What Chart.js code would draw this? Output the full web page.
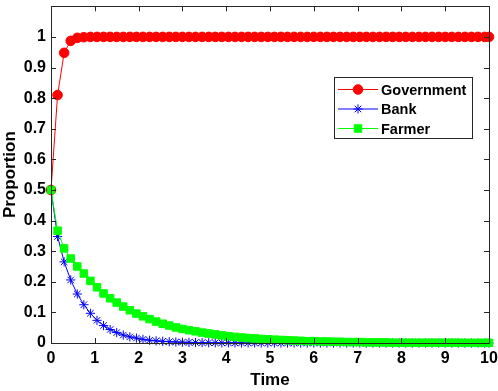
<!DOCTYPE html>
<html>
<head>
<meta charset="utf-8">
<script src="https://cdn.jsdelivr.net/npm/chart.js@4/dist/chart.umd.min.js"></script>
<style>
html,body{margin:0;padding:0;background:#fff;}
#wrap{width:498px;height:391px;position:relative;}
</style>
</head>
<body>
<div id="wrap"><canvas id="c" width="498" height="391"></canvas></div>
<script>
const times = [0,0.15,0.3,0.45,0.6,0.75,0.9,1.05,1.2,1.35,1.5,1.65,1.8,1.95,2.1,2.25,2.4,2.55,2.7,2.85,
  3.0,3.15,3.3,3.45,3.6,3.75,3.9,4.05,4.2,4.35,4.5,4.65,4.8,4.95,5.1,5.25,5.4,5.55,5.7,5.85,
  6.0,6.15,6.3,6.45,6.6,6.75,6.9,7.05,7.2,7.35,7.5,7.65,7.8,7.95,8.1,8.25,8.4,8.55,8.7,8.85,
  9.0,9.15,9.3,9.45,9.6,9.75,9.9,10.0];

const government = [0.5,0.81,0.948,0.987,0.997,0.999,1,1,1,1,1,1,1,1,1,1,1,1,1,1,
  1,1,1,1,1,1,1,1,1,1,1,1,1,1,1,1,1,1,1,1,
  1,1,1,1,1,1,1,1,1,1,1,1,1,1,1,1,1,1,1,1,
  1,1,1,1,1,1,1,1];

const bank = [0.5,0.348,0.265,0.206,0.160,0.125,0.097,0.074,0.057,0.044,0.034,0.026,0.020,0.016,0.012,0.009,0.007,0.0055,0.0043,0.0033,
  0.0026,0.002,0.0015,0.0012,0.0009,0.0007,0.0005,0.0004,0.0003,0.0002,0.0002,0.0001,0,0,0,0,0,0,0,0,
  0,0,0,0,0,0,0,0,0,0,0,0,0,0,0,0,0,0,0,0,
  0,0,0,0,0,0,0,0];

const farmer = [0.5,0.367,0.309,0.276,0.25,0.227,0.203,0.182,0.162,0.146,0.132,0.119,0.107,0.096,0.087,0.078,0.070,0.063,0.057,0.051,
  0.046,0.042,0.038,0.034,0.031,0.028,0.025,0.022,0.020,0.018,0.016,0.015,0.013,0.012,0.011,0.010,0.009,0.008,0.007,0.006,
  0.006,0.005,0.005,0.004,0.004,0.003,0.003,0.003,0.002,0.002,0.002,0.002,0.001,0.001,0.001,0.001,0.001,0.001,0.001,0.001,
  0.001,0.001,0.001,0.0005,0.0005,0.0005,0.0005,0.0005];

const seriesNames = ['Government','Bank','Farmer'];
const xTicks = [0,1,2,3,4,5,6,7,8,9,10];
const yTicks = [0,0.1,0.2,0.3,0.4,0.5,0.6,0.7,0.8,0.9,1];

const FONT = "'Liberation Sans', Arial, sans-serif";
const AXIS = '#262626';

const pts = arr => arr.map((v,i)=>({x:times[i], y:v}));

const styles = [
  {color:'#ff0000', pointStyle:'circle', radius:4.8, fill:'#ff0000', bw:1},
  {color:'#0000ff', pointStyle:'star', radius:4.6, fill:'rgba(0,0,0,0)', bw:1},
  {color:'#00ff00', pointStyle:'rect', radius:5.3, fill:'#00ff00', bw:1}
];

const boxPlugin = {
  id:'box',
  afterDraw(chart){
    const ctx = chart.ctx, a = chart.chartArea;
    const xs = chart.scales.x, ys = chart.scales.y;
    ctx.save();
    ctx.strokeStyle = AXIS; ctx.lineWidth = 1;
    ctx.beginPath();
    ctx.rect(Math.round(a.left)+0.5, Math.round(a.top)+0.5, Math.round(a.right-a.left), Math.round(a.bottom-a.top));
    ctx.stroke();
    const L = 5;
    ctx.beginPath();
    xTicks.forEach(v=>{
      const px = Math.round(xs.getPixelForValue(v))+0.5;
      ctx.moveTo(px, a.bottom); ctx.lineTo(px, a.bottom-L);
      ctx.moveTo(px, a.top); ctx.lineTo(px, a.top+L);
    });
    yTicks.forEach(v=>{
      const py = Math.round(ys.getPixelForValue(v))+0.5;
      ctx.moveTo(a.left, py); ctx.lineTo(a.left+L, py);
      ctx.moveTo(a.right, py); ctx.lineTo(a.right-L, py);
    });
    ctx.stroke();

    // legend
    const lx = 334.5, ly = 77.5, lw = 138, lh = 61;
    ctx.fillStyle = '#fff';
    ctx.fillRect(lx, ly, lw, lh);
    ctx.strokeStyle = AXIS;
    ctx.strokeRect(lx, ly, lw, lh);
    const rows = [89.5, 109, 128.5];
    ctx.font = "bold 14.5px " + FONT;
    ctx.textBaseline = 'middle';
    seriesNames.forEach((name,i)=>{
      const s = styles[i];
      ctx.strokeStyle = s.color; ctx.lineWidth = 1;
      ctx.beginPath(); ctx.moveTo(338, rows[i]); ctx.lineTo(378, rows[i]); ctx.stroke();
      ctx.fillStyle = s.fill; ctx.strokeStyle = s.color; ctx.lineWidth = s.bw;
      Chart.helpers.drawPoint(ctx, {pointStyle:s.pointStyle, radius:s.radius, rotation:0, borderWidth:s.bw}, 358, rows[i]);
      ctx.fillStyle = '#000';
      ctx.fillText(name, 381, rows[i]+1);
    });
    ctx.restore();
  }
};

const datasets = [government, bank, farmer].map((arr,i)=>({
  label: seriesNames[i],
  data: pts(arr),
  borderColor: styles[i].color,
  backgroundColor: styles[i].fill,
  pointBorderColor: styles[i].color,
  pointBackgroundColor: styles[i].fill,
  pointStyle: styles[i].pointStyle,
  pointRadius: styles[i].radius,
  pointBorderWidth: styles[i].bw,
  borderWidth: 1,
  tension: 0,
  clip: 6,
  order: 3 - i
}));

function noPad(s){ s.paddingTop = 0; s.paddingBottom = 0; s.paddingLeft = 0; s.paddingRight = 0; }

new Chart(document.getElementById('c'), {
  type:'line',
  data:{datasets},
  options:{
    responsive:false,
    animation:false,
    events:[],
    layout:{padding:{left:0,right:9,top:3,bottom:0}},
    plugins:{legend:{display:false}, tooltip:{enabled:false}},
    scales:{
      x:{
        type:'linear', min:0, max:10,
        afterBuildTicks(s){ s.ticks = xTicks.map(v=>({value:v})); },
        afterFit(s){ s.height = 48; noPad(s); },
        grid:{drawOnChartArea:false, drawTicks:false},
        border:{display:false},
        ticks:{padding:6, color:'#000', font:{family:FONT, size:16, weight:'bold'}, maxRotation:0, autoSkip:false},
        title:{display:true, text:'Time', color:'#000', font:{family:FONT, size:17, weight:'bold'}, padding:{top:3,bottom:0}}
      },
      y:{
        type:'linear', min:0, max:1.1,
        afterBuildTicks(s){ s.ticks = yTicks.map(v=>({value:v})); },
        afterFit(s){ s.width = 51; noPad(s); },
        grid:{drawOnChartArea:false, drawTicks:false},
        border:{display:false},
        ticks:{padding:5, color:'#000', font:{family:FONT, size:16, weight:'bold'}, callback:v=>String(Math.round(v*10)/10)},
        title:{display:true, text:'Proportion', color:'#000', font:{family:FONT, size:17, weight:'bold'}, padding:{top:0,bottom:2}}
      }
    }
  },
  plugins:[boxPlugin]
});
</script>
</body>
</html>
